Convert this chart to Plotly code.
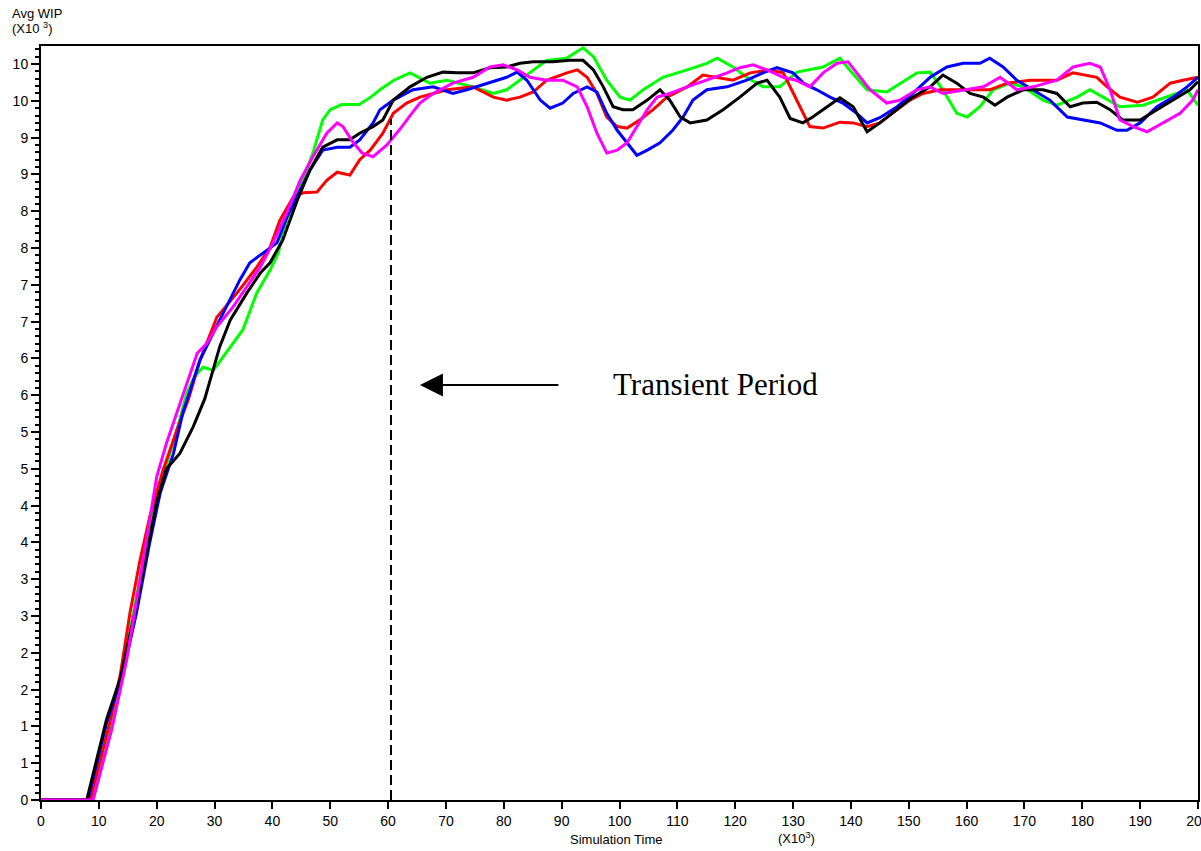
import plotly.graph_objects as go

# ---------------- data ----------------
green_x = [0, 9.0, 12.5, 14.2, 16.0, 17.7, 19.4, 21.4, 23.5, 25.2, 26.5, 28.0, 29.8, 31.5, 34.9, 37.3,
           39.6, 41.0, 42.5, 44.8, 47.0, 48.7, 50.0, 52.0, 55.0, 57.0, 58.6, 61.0, 63.8, 67.2, 70.2, 74.7,
           78.2, 80.5, 82.8, 85.1, 87.4, 90.9, 93.7, 95.5, 97.8, 100.1, 101.8, 104.1, 107.5, 111.7, 115.1,
           116.9, 119.6, 122.0, 124.8, 127.7, 130.7, 135.2, 138.1, 139.8, 142.8, 146.2, 148.5, 151.4, 153.7,
           155.9, 158.3, 160.1, 162.3, 164.6, 167.5, 169.8, 173.2, 175.6, 179.1, 181.3, 183.6, 186.5, 190.5,
           194.6, 198.1, 200]
green_y = [0, 0, 1.09, 1.81, 2.58, 3.26, 3.90, 4.48, 5.03, 5.53, 5.75, 5.88, 5.84, 6.02, 6.39, 6.89,
           7.20, 7.43, 7.88, 8.33, 8.79, 9.24, 9.38, 9.45, 9.45, 9.55, 9.65, 9.78, 9.88, 9.74, 9.78, 9.69,
           9.60, 9.65, 9.78, 9.92, 10.05, 10.08, 10.22, 10.10, 9.78, 9.55, 9.51, 9.65, 9.82, 9.92, 10.01,
           10.08, 9.96, 9.82, 9.69, 9.69, 9.89, 9.96, 10.08, 9.92, 9.65, 9.62, 9.74, 9.88, 9.89,
           9.65, 9.33, 9.28, 9.42, 9.65, 9.74, 9.69, 9.51, 9.44, 9.55, 9.65, 9.55, 9.42, 9.44,
           9.55, 9.65, 9.44]

red_x = [0, 8.5, 11.9, 13.7, 15.4, 17.1, 18.8, 21.1, 23.5, 25.5, 27.5, 30.4, 33.9, 37.3, 39.6, 41.3,
         43.6, 45.3, 47.7, 49.4, 51.2, 53.4, 55.1, 56.9, 59.1, 60.9, 63.2, 65.5, 70.2, 74.7, 78.2, 80.5,
         82.8, 85.1, 87.4, 90.9, 92.7, 94.4, 96.1, 97.8, 99.6, 101.3, 103.5, 105.8, 108.2, 111.7, 114.4,
         116.9, 119.6, 122.6, 126.0, 128.3, 130.0, 131.2, 132.9, 135.2, 138.1, 140.4, 142.8, 145.0, 148.0,
         150.2, 152.5, 155.4, 159.4, 164.0, 167.0, 171.0, 175.6, 178.4, 182.5, 184.3, 186.5, 189.5, 192.2,
         195.2, 197.4, 200]
red_y = [0, 0, 1.05, 1.70, 2.55, 3.25, 3.85, 4.48, 5.03, 5.45, 5.98, 6.56, 6.89, 7.24, 7.51, 7.88,
         8.19, 8.25, 8.26, 8.42, 8.53, 8.49, 8.70, 8.83, 9.06, 9.33, 9.47, 9.55, 9.65, 9.69, 9.55, 9.51,
         9.55, 9.62, 9.78, 9.88, 9.92, 9.82, 9.60, 9.28, 9.15, 9.13, 9.24, 9.38, 9.55, 9.69, 9.85,
         9.82, 9.78, 9.88, 9.92, 9.88, 9.60, 9.42, 9.15, 9.13, 9.21, 9.20, 9.15, 9.20, 9.38,
         9.51, 9.60, 9.65, 9.65, 9.65, 9.74, 9.78, 9.78, 9.88, 9.82, 9.69, 9.55, 9.48, 9.55,
         9.74, 9.78, 9.82]

blue_x = [0, 8.1, 11.35, 14.2, 16.5, 18.8, 20.6, 22.9, 24.5, 27.5, 29.8, 32.1, 34.4, 36.1, 38.4, 40.8,
          42.5, 44.8, 46.5, 48.7, 51.2, 53.4, 55.1, 57.4, 58.6, 60.9, 64.3, 67.8, 71.2, 73.6, 77.1, 80.5,
          82.3, 84.0, 86.3, 88.0, 90.2, 92.0, 94.4, 96.1, 97.8, 99.6, 101.3, 103.0, 104.8, 107.0, 109.2,
          111.0, 112.7, 115.1, 118.6, 122.0, 124.8, 127.2, 130.0, 131.8, 134.1, 136.4, 138.6, 141.0, 142.8,
          145.0, 148.0, 150.7, 153.7, 156.6, 159.4, 162.3, 164.0, 166.3, 168.7, 171.5, 174.4, 177.4, 180.1,
          183.1, 186.0, 187.7, 190.0, 192.9, 195.7, 198.1, 200]
blue_y = [0, 0, 1.05, 1.73, 2.54, 3.50, 4.17, 4.71, 5.26, 5.98, 6.35, 6.70, 7.07, 7.30, 7.43, 7.57,
          7.92, 8.29, 8.56, 8.83, 8.87, 8.87, 8.97, 9.20, 9.38, 9.51, 9.65, 9.69, 9.60, 9.65, 9.74, 9.82,
          9.89, 9.78, 9.51, 9.40, 9.47, 9.60, 9.69, 9.62, 9.33, 9.10, 8.93, 8.76, 8.83, 8.93, 9.10,
          9.28, 9.51, 9.65, 9.69, 9.78, 9.88, 9.95, 9.88, 9.74, 9.65, 9.55, 9.47, 9.33, 9.20,
          9.27, 9.42, 9.60, 9.82, 9.96, 10.01, 10.01, 10.08, 9.96, 9.78, 9.65, 9.51, 9.28, 9.24,
          9.20, 9.10, 9.10, 9.20, 9.42, 9.55, 9.69, 9.82]

black_x = [0, 7.9, 11.35, 13.7, 16.5, 18.3, 20.0, 21.7, 24.0, 26.3, 28.3, 30.9, 32.7, 35.6, 37.9, 39.6,
           41.8, 44.3, 46.5, 48.7, 51.2, 53.4, 55.1, 57.4, 59.1, 60.9, 63.8, 66.7, 69.5, 71.9, 74.7, 77.6,
           80.5, 82.8, 85.1, 88.5, 91.4, 93.7, 95.5, 97.2, 98.9, 100.6, 102.3, 104.8, 107.0, 108.7, 110.5,
           112.2, 115.1, 117.9, 120.8, 123.8, 125.5, 127.7, 129.5, 131.7, 133.4, 135.9, 138.1, 140.4, 142.8,
           145.0, 148.0, 150.7, 153.7, 155.9, 158.3, 160.6, 162.9, 164.9, 167.0, 169.8, 173.2, 175.6, 177.9,
           180.1, 182.5, 184.8, 187.0, 190.0, 192.9, 195.7, 198.6, 200]
black_y = [0, 0, 1.10, 1.65, 2.65, 3.35, 4.05, 4.50, 4.71, 5.07, 5.45, 6.16, 6.52, 6.89, 7.16, 7.30,
           7.61, 8.15, 8.56, 8.87, 8.97, 8.97, 9.06, 9.15, 9.24, 9.51, 9.69, 9.82, 9.89, 9.88, 9.88, 9.95,
           9.96, 10.01, 10.03, 10.03, 10.05, 10.05, 9.92, 9.69, 9.42, 9.38, 9.38, 9.51, 9.65, 9.51, 9.28,
           9.20, 9.24, 9.38, 9.55, 9.74, 9.78, 9.55, 9.26, 9.20, 9.28, 9.42, 9.54, 9.42, 9.08,
           9.20, 9.38, 9.55, 9.69, 9.85, 9.74, 9.60, 9.55, 9.44, 9.55, 9.65, 9.65, 9.60, 9.42,
           9.47, 9.48, 9.38, 9.24, 9.24, 9.38, 9.51, 9.65, 9.76]

magenta_x = [0, 9.0, 12.2, 14.8, 16.5, 18.3, 20.0, 21.7, 24.0, 27.0, 28.7, 30.4, 33.2, 35.6, 37.9, 40.1,
             42.5, 44.8, 47.0, 49.4, 51.2, 52.2, 54.0, 55.5, 57.4, 59.8, 62.1, 63.8, 65.5, 67.8, 71.2, 74.7,
             77.6, 79.9, 82.3, 84.5, 87.4, 90.2, 92.7, 94.4, 96.1, 97.8, 99.6, 101.3, 103.0, 104.8, 106.5,
             108.7, 111.7, 115.1, 118.6, 120.8, 123.1, 125.5, 128.3, 130.5, 132.9, 135.2, 137.6, 139.5, 141.0,
             143.3, 146.2, 148.5, 151.4, 153.7, 155.9, 159.4, 162.9, 165.8, 168.7, 171.5, 175.6, 178.4, 181.3,
             183.1, 184.8, 186.5, 188.8, 191.2, 194.0, 196.9, 199.1, 200]
magenta_y = [0, 0, 0.95, 1.90, 2.70, 3.60, 4.39, 4.85, 5.39, 6.07, 6.21, 6.43, 6.70, 6.97, 7.24, 7.57,
             7.98, 8.42, 8.74, 9.06, 9.20, 9.15, 8.93, 8.79, 8.74, 8.90, 9.12, 9.30, 9.47, 9.60, 9.74, 9.82,
             9.96, 9.99, 9.92, 9.82, 9.78, 9.78, 9.69, 9.42, 9.06, 8.79, 8.83, 8.93, 9.15, 9.38, 9.55,
             9.60, 9.69, 9.78, 9.88, 9.95, 9.99, 9.92, 9.82, 9.78, 9.69, 9.88, 10.01, 10.03, 9.88,
             9.65, 9.47, 9.51, 9.65, 9.69, 9.60, 9.65, 9.69, 9.82, 9.65, 9.69, 9.78, 9.96, 10.01,
             9.96, 9.65, 9.24, 9.15, 9.08, 9.20, 9.33, 9.51, 9.65]

series = [
    ("Run 1", green_x, green_y, "#00FF00"),
    ("Run 2", red_x, red_y, "#FF0000"),
    ("Run 3", blue_x, blue_y, "#0000FF"),
    ("Run 4", black_x, black_y, "#000000"),
    ("Run 5", magenta_x, magenta_y, "#FF00FF"),
]

x_tick_vals = list(range(0, 201, 10))
x_tick_labels = [str(v) for v in x_tick_vals]
y_tick_vals = [i * 0.5 for i in range(21)]
y_tick_labels = ["0", "1", "1", "2", "2", "3", "3", "4", "4", "5", "5",
                 "6", "6", "7", "7", "8", "8", "9", "9", "10", "10"]

transient_end = 60.5
transient_top = 9.25
arrow_head = (65.5, 5.64)
arrow_tail = (89.7, 5.64)
label_pos = (116.6, 5.65)

# ---------------- figure ----------------
fig = go.Figure()
for name, xs, ys, col in series:
    fig.add_trace(go.Scatter(x=xs, y=ys, mode="lines", name=name,
                             line=dict(color=col, width=3), showlegend=False))

# transient period marker
fig.add_shape(type="line", xref="x", yref="y", x0=transient_end, x1=transient_end,
              y0=0, y1=transient_top, line=dict(color="black", width=2, dash="10px,5px"))

fig.add_annotation(x=arrow_head[0], y=arrow_head[1], ax=arrow_tail[0], ay=arrow_tail[1],
                   xref="x", yref="y", axref="x", ayref="y", text="", showarrow=True,
                   arrowhead=2, arrowsize=2.3, arrowwidth=2, arrowcolor="black", standoff=0)
fig.add_annotation(x=label_pos[0], y=label_pos[1], xref="x", yref="y", text="Transient Period",
                   showarrow=False, xanchor="center", yanchor="middle",
                   font=dict(family="Liberation Serif, Times New Roman, serif", size=31, color="black"))

sans = "Liberation Sans, Arial, sans-serif"
fig.add_annotation(x=-0.027, y=1.043, xref="paper", yref="paper", text="Avg WIP",
                   showarrow=False, xanchor="left", yanchor="middle",
                   font=dict(family=sans, size=13, color="black"))
fig.add_annotation(x=-0.027, y=1.024, xref="paper", yref="paper", text="(X10 <sup>3</sup>)",
                   showarrow=False, xanchor="left", yanchor="middle",
                   font=dict(family=sans, size=13, color="black"))
fig.add_annotation(x=0.497, y=-0.052, xref="paper", yref="paper", text="Simulation Time",
                   showarrow=False, xanchor="center", yanchor="middle",
                   font=dict(family=sans, size=13, color="black"))
fig.add_annotation(x=0.653, y=-0.05, xref="paper", yref="paper", text="(X10<sup>3</sup>)",
                   showarrow=False, xanchor="center", yanchor="middle",
                   font=dict(family=sans, size=13, color="black"))

fig.update_layout(
    width=1201, height=851,
    margin=dict(l=41, r=3, t=46, b=51, autoexpand=False),
    paper_bgcolor="white", plot_bgcolor="white",
    font=dict(family=sans, size=14, color="black"),
    xaxis=dict(range=[0, 200], tickmode="array", tickvals=x_tick_vals, ticktext=x_tick_labels,
               ticks="outside", ticklen=7, tickwidth=2, tickcolor="black",
               ticklabeloverflow="allow", automargin=False,
               showline=True, linewidth=2, linecolor="black", mirror=True,
               showgrid=False, zeroline=False, tickfont=dict(size=14)),
    yaxis=dict(range=[0, 10.245], tickmode="array", tickvals=y_tick_vals, ticktext=y_tick_labels,
               ticks="outside", ticklen=8, tickwidth=2, tickcolor="black", automargin=False,
               minor=dict(tickmode="linear", tick0=0, dtick=0.1, ticks="outside",
                          ticklen=4, tickwidth=1.5, tickcolor="black", showgrid=False),
               showline=True, linewidth=2, linecolor="black", mirror=True,
               showgrid=False, zeroline=False, tickfont=dict(size=14)),
)

fig.write_html("out.html", config={"displayModeBar": False},
               post_script="document.body.style.margin='0px';document.body.style.overflow='hidden';")
